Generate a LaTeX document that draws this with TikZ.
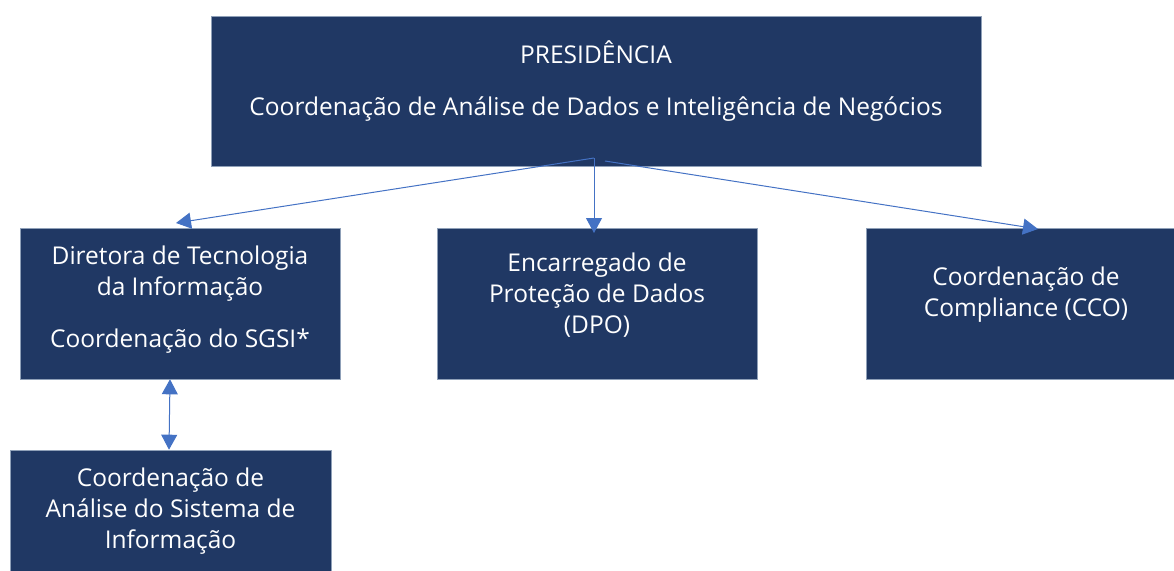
\documentclass[tikz,border=0pt]{standalone}
\usepackage{fontspec}
\setmainfont{Open Sans}
\usetikzlibrary{arrows.meta}

\begin{document}
\begin{tikzpicture}[x=1pt,y=-1pt]

\definecolor{navy}{HTML}{203864}
\definecolor{linkblue}{HTML}{4472C4}
\definecolor{edgegray}{HTML}{8FA0B8}

\tikzset{
  unit/.style={draw=edgegray,line width=0.6pt,fill=navy,
    inner sep=0pt,minimum width=320pt,minimum height=151pt},
  lbl/.style={text=white,align=center,font=\fontsize{24.5}{31}\selectfont},
  tip/.tip={Triangle[width=16pt,length=15pt]},
  link/.style={-tip,line width=1pt,color=linkblue}
}

\useasboundingbox (0,0) rectangle (1174,570);
\clip (0,0) rectangle (1174,570);

\node[unit,minimum width=770pt,minimum height=150pt,
  label={[lbl,yshift=10pt]center:PRESIDÊNCIA\\[21pt]Coordenação de Análise de Dados e Inteligência de Negócios}]
  (pres) at (596,91) {};

\node[unit,label={[lbl,yshift=4pt]center:Diretora de Tecnologia\\da Informação\\[21pt]Coordenação do SGSI*}]
  (dti) at (180,303.5) {};
\node[unit,label={[lbl,yshift=8pt]center:Encarregado de\\Proteção de Dados\\(DPO)}]
  (dpo) at (597,303.5) {};
\node[unit,label={[lbl,yshift=9pt]center:Coordenação de\\Compliance (CCO)}]
  (cco) at (1026,303.5) {};

\node[unit,minimum width=321pt,minimum height=130pt,
  label={[lbl,yshift=4pt]center:Coordenação de\\Análise do Sistema de\\Informação}]
  (casi) at (170.5,515) {};

\coordinate (hub) at (594,158);
\coordinate (hubr) at (605,161);
\coordinate (dtitip) at (176,223);
\coordinate (dpotip) at (594,233);
\coordinate (ccotip) at (1038,229);

\draw[link] (hub) -- (dtitip);
\draw[link] (hub) -- (dpotip);
\draw[link] (hubr) -- (ccotip);

\draw[link,tip-tip] (dti.south -| 170,0) -- (casi.north -| 169,0);

\end{tikzpicture}
\end{document}
